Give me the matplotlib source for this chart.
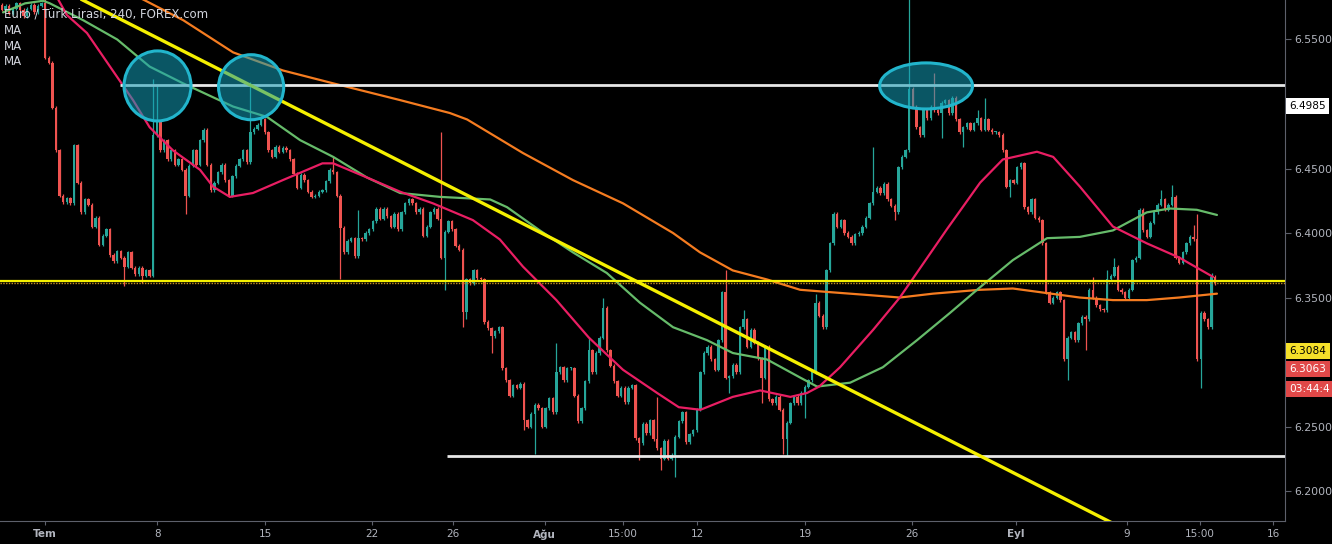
import matplotlib
matplotlib.use("Agg")
import matplotlib.pyplot as plt
import matplotlib.transforms as mtransforms
from matplotlib.patches import Ellipse
import numpy as np

# ---------------- data (EUR/TRY, 4h candles) ----------------
first_open = 6.577
closes = [
    6.573, 6.576, 6.570, 6.574, 6.578, 6.573, 6.568, 6.574, 6.577, 6.571,
    6.576, 6.578, 6.536, 6.532, 6.497, 6.464, 6.429, 6.424, 6.427, 6.423,
    6.468, 6.439, 6.416, 6.426, 6.422, 6.405, 6.412, 6.391, 6.398, 6.403,
    6.383, 6.378, 6.386, 6.381, 6.374, 6.385, 6.373, 6.368, 6.373, 6.367,
    6.371, 6.367, 6.476, 6.486, 6.464, 6.472, 6.457, 6.464, 6.453, 6.457,
    6.449, 6.429, 6.452, 6.464, 6.453, 6.472, 6.480, 6.453, 6.433, 6.439,
    6.447, 6.453, 6.441, 6.429, 6.444, 6.452, 6.457, 6.464, 6.455, 6.478,
    6.481, 6.484, 6.488, 6.478, 6.464, 6.459, 6.467, 6.463, 6.466, 6.464,
    6.457, 6.446, 6.435, 6.445, 6.441, 6.432, 6.428, 6.429, 6.432, 6.433,
    6.440, 6.449, 6.447, 6.429, 6.404, 6.385, 6.394, 6.396, 6.382, 6.396,
    6.395, 6.400, 6.403, 6.409, 6.419, 6.411, 6.419, 6.413, 6.405, 6.415,
    6.403, 6.416, 6.423, 6.426, 6.423, 6.416, 6.419, 6.398, 6.405, 6.416,
    6.419, 6.411, 6.381, 6.401, 6.409, 6.403, 6.390, 6.387, 6.339, 6.364,
    6.361, 6.371, 6.365, 6.364, 6.331, 6.326, 6.320, 6.324, 6.327, 6.295,
    6.286, 6.274, 6.282, 6.280, 6.283, 6.255, 6.250, 6.260, 6.267, 6.264,
    6.250, 6.264, 6.272, 6.261, 6.292, 6.296, 6.286, 6.295, 6.295, 6.274,
    6.254, 6.264, 6.285, 6.309, 6.292, 6.307, 6.319, 6.342, 6.309, 6.297,
    6.285, 6.274, 6.280, 6.269, 6.280, 6.282, 6.241, 6.237, 6.252, 6.245,
    6.255, 6.240, 6.233, 6.225, 6.239, 6.225, 6.228, 6.242, 6.254, 6.261,
    6.238, 6.244, 6.247, 6.263, 6.292, 6.307, 6.312, 6.302, 6.294, 6.317,
    6.354, 6.288, 6.289, 6.298, 6.292, 6.327, 6.333, 6.312, 6.325, 6.315,
    6.303, 6.288, 6.312, 6.271, 6.268, 6.273, 6.263, 6.240, 6.253, 6.268,
    6.273, 6.268, 6.276, 6.281, 6.286, 6.292, 6.346, 6.336, 6.327, 6.371,
    6.392, 6.415, 6.405, 6.410, 6.400, 6.397, 6.392, 6.399, 6.400, 6.405,
    6.412, 6.423, 6.432, 6.435, 6.431, 6.438, 6.426, 6.421, 6.416, 6.451,
    6.459, 6.464, 6.512, 6.498, 6.482, 6.476, 6.495, 6.489, 6.498, 6.495,
    6.493, 6.501, 6.503, 6.493, 6.505, 6.488, 6.478, 6.482, 6.485, 6.480,
    6.485, 6.489, 6.480, 6.488, 6.480, 6.478, 6.478, 6.476, 6.464, 6.436,
    6.441, 6.439, 6.451, 6.454, 6.420, 6.416, 6.426, 6.412, 6.410, 6.392,
    6.354, 6.346, 6.350, 6.354, 6.348, 6.302, 6.319, 6.323, 6.317, 6.330,
    6.335, 6.333, 6.356, 6.350, 6.344, 6.341, 6.340, 6.364, 6.367, 6.374,
    6.356, 6.354, 6.350, 6.356, 6.379, 6.381, 6.418, 6.402, 6.397, 6.408,
    6.416, 6.422, 6.426, 6.418, 6.422, 6.428, 6.381, 6.377, 6.385, 6.392,
    6.397, 6.395, 6.302, 6.338, 6.333, 6.327, 6.366, 6.361,
]
# notable wick extremes (candle index -> price)
spike_high = {12: 6.581, 42: 6.519, 43: 6.515, 69: 6.517, 72: 6.491, 92: 6.459,
              99: 6.418, 122: 6.478, 154: 6.315, 163: 6.319, 167: 6.350, 182: 6.273,
              201: 6.371, 206: 6.340, 226: 6.353, 242: 6.467, 252: 6.590, 259: 6.524,
              271: 6.495, 273: 6.505, 303: 6.366, 307: 6.371, 309: 6.381, 322: 6.433,
              325: 6.437, 331: 6.406, 332: 6.415, 336: 6.369}
spike_low = {34: 6.359, 39: 6.361, 51: 6.415, 94: 6.364, 123: 6.356, 128: 6.327,
             129: 6.333, 136: 6.307, 145: 6.247, 148: 6.229, 177: 6.224, 183: 6.216,
             187: 6.211, 202: 6.276, 211: 6.268, 217: 6.229, 218: 6.227, 223: 6.257,
             248: 6.410, 261: 6.474, 267: 6.467, 280: 6.428, 296: 6.286, 301: 6.309,
             333: 6.280}

# moving averages (candle index, price)
ma_fast_t = [15.6, 18, 23.6, 30, 36.4, 41, 47.5, 55, 58.6, 63.3, 69.7, 78, 89, 92,
             101.4, 110.6, 119.7, 130.8, 138.3, 144.7, 154, 163, 172.5, 182, 188,
             194, 203, 210.6, 219, 223.6, 227, 232.8, 242, 249.4, 262.5, 271.7, 278,
             287.5, 292, 299.4, 308.6, 318, 327, 336.4]
ma_fast_v = [6.581, 6.569, 6.555, 6.529, 6.503, 6.482, 6.464, 6.449, 6.436, 6.428,
             6.431, 6.441, 6.454, 6.454, 6.443, 6.432, 6.423, 6.410, 6.395, 6.374,
             6.348, 6.319, 6.294, 6.276, 6.265, 6.263, 6.273, 6.278, 6.273, 6.276,
             6.281, 6.296, 6.325, 6.350, 6.403, 6.439, 6.457, 6.463, 6.459, 6.436,
             6.405, 6.392, 6.381, 6.366]
ma_mid_t = [0.3, 6.4, 11.4, 13.3, 22.5, 32, 41, 50.3, 64.2, 73.6, 82.8, 92, 101.4,
            110.6, 121.7, 135.6, 140.3, 149.4, 158.6, 168, 177.2, 186.4, 195.8, 203,
            212.5, 221.7, 226.4, 235.6, 244.7, 254.2, 263.3, 271.7, 280.8, 290.3,
            299.4, 308.6, 318, 324.4, 331.9, 337.5]
ma_mid_v = [6.571, 6.578, 6.580, 6.578, 6.565, 6.550, 6.529, 6.516, 6.498, 6.490,
            6.472, 6.459, 6.443, 6.431, 6.428, 6.426, 6.420, 6.402, 6.385, 6.369,
            6.346, 6.327, 6.317, 6.307, 6.302, 6.288, 6.281, 6.284, 6.296, 6.317,
            6.338, 6.358, 6.379, 6.396, 6.397, 6.402, 6.416, 6.419, 6.418, 6.414]
ma_slow_t = [30, 39.2, 50.3, 64.2, 78, 92, 110.6, 124.4, 129.2, 144.7, 158.6, 172.5,
             186.4, 193.9, 203, 212.5, 221.7, 230.8, 240.3, 249.4, 258.6, 271.7,
             280.8, 299.4, 308.6, 318, 327, 337.5]
ma_slow_v = [6.592, 6.581, 6.565, 6.540, 6.526, 6.516, 6.503, 6.493, 6.488, 6.462,
             6.441, 6.423, 6.400, 6.385, 6.371, 6.364, 6.356, 6.354, 6.352, 6.350,
             6.353, 6.356, 6.357, 6.350, 6.348, 6.348, 6.350, 6.353]

# drawn levels / trend line
resistance = 6.5147
resistance_start = 32.8
support = 6.2272
support_start = 123.6
mid_level = 6.3628
trend_t = [20.0, 310.0]
trend_v = [6.584, 6.173]

# highlighted zones: (center index, center price, width in candles, height in price)
zones = [(43.2, 6.514, 18.6, 0.0543), (69.2, 6.513, 18.1, 0.0504), (256.7, 6.514, 25.8, 0.0357)]

# scale labels (6.50 and 6.30 are covered by the price tags in the original)
price_ticks = [6.20, 6.25, 6.35, 6.40, 6.45, 6.55]
price_tags = [("6.4985", 6.4985, "white", "black"),
              ("6.3084", 6.3084, "#f5e02a", "black"),
              ("6.3063", 6.2946, "#e04848", "white"),
              ("03:44:4", 6.2791, "#e04848", "white")]
time_tick_pos = [11.9, 43.1, 73.1, 102.8, 125.3, 150.8, 172.5, 193.1, 223.1, 252.8,
                 281.7, 312.5, 332.8, 353.1]
time_tick_labels = ["Tem", "8", "15", "22", "26", "Ağu", "15:00", "12", "19", "26",
                    "Eyl", "9", "15:00", "16"]
bold_labels = {"Tem", "Ağu", "Eyl"}

# ---------------- drawing ----------------
UP = "#26a69a"
DOWN = "#ef5350"
MIN_WICK = 0.0012
TXT = "#b2b5be"

fig = plt.figure(figsize=(13.32, 5.44), dpi=100, facecolor="black")
ax = fig.add_axes([0, 23 / 544, 1285 / 1332, 521 / 544])
ax.set_facecolor("black")

c = np.array(closes)
o = np.concatenate([[first_open], c[:-1]])
t = np.arange(len(c))
up = c >= o
cols = np.where(up, UP, DOWN)
body_lo = np.minimum(o, c)
body_hi = np.maximum(o, c)
hi = body_hi + MIN_WICK
lo = body_lo - MIN_WICK
for k, v in spike_high.items():
    hi[k] = max(hi[k], v)
for k, v in spike_low.items():
    lo[k] = min(lo[k], v)

ax.vlines(t, lo, hi, colors=cols, linewidth=0.9, zorder=2)
ax.bar(t, np.maximum(body_hi - body_lo, 0.0008), bottom=body_lo, width=0.68,
       color=cols, linewidth=0, zorder=3)

# moving averages
ax.plot(ma_slow_t, ma_slow_v, color="#f57c20", lw=1.6, zorder=4,
        solid_joinstyle="round", solid_capstyle="round")
ax.plot(ma_mid_t, ma_mid_v, color="#66bb6a", lw=1.6, zorder=4,
        solid_joinstyle="round", solid_capstyle="round")
ax.plot(ma_fast_t, ma_fast_v, color="#e91e63", lw=1.6, zorder=4,
        solid_joinstyle="round", solid_capstyle="round")

xmax = 356.4
# horizontal levels
ax.hlines(resistance, resistance_start, xmax, color="#e8e8e8", lw=2.0, zorder=5)
ax.hlines(support, support_start, xmax, color="#e8e8e8", lw=2.0, zorder=5)
ax.axhline(mid_level - 0.0017, color="#c89020", lw=1.0, ls=(0, (1, 1)), zorder=5)
ax.axhline(mid_level, color="#f5f000", lw=1.6, zorder=5)
# trend line
ax.plot(trend_t, trend_v, color="#f5f000", lw=2.4, zorder=6, solid_capstyle="butt")

for (cx, cy, w, h) in zones:
    ax.add_patch(Ellipse((cx, cy), w, h, facecolor=(0.08, 0.62, 0.72, 0.55),
                         edgecolor="#22b5cc", lw=2.2, zorder=7))

ax.set_xlim(-0.56, xmax)
ax.set_ylim(6.1768, 6.5806)

# axes styling
for s in ("left", "top"):
    ax.spines[s].set_visible(False)
ax.spines["right"].set_color("#5d606b")
ax.spines["bottom"].set_color("#5d606b")
ax.yaxis.tick_right()
ax.set_yticks(price_ticks)
ax.set_yticklabels([f"{p:.4f}" for p in price_ticks])
ax.tick_params(axis="y", colors="#5d606b", labelcolor=TXT, labelsize=7.8, length=4, pad=2.5)
ax.set_xticks(time_tick_pos)
ax.set_xticklabels(time_tick_labels)
ax.tick_params(axis="x", colors="#5d606b", labelcolor=TXT, labelsize=7.5, length=3, pad=3)
for lab in ax.get_xticklabels():
    if lab.get_text() in bold_labels:
        lab.set_fontweight("bold")

# price tags on the right scale
btr = mtransforms.blended_transform_factory(ax.transAxes, ax.transData)
for txt, yv, fc, tc in price_tags:
    ax.text(1.0035, yv, txt, transform=btr, va="center", ha="left", fontsize=7.6,
            color=tc, clip_on=False,
            bbox=dict(boxstyle="square,pad=0.3", fc=fc, ec="none"))

# legend text
ax.text(0.0031, 0.973, "Euro / Türk Lirası, 240, FOREX.com", transform=ax.transAxes,
        va="center", ha="left", fontsize=8.5, color="#d1d4dc", zorder=10)
for yy in (0.9405, 0.910, 0.881):
    ax.text(0.0031, yy, "MA", transform=ax.transAxes, va="center", ha="left",
            fontsize=8.5, color="#d1d4dc", zorder=10)

fig.savefig("out.png", dpi=100, facecolor="black")
